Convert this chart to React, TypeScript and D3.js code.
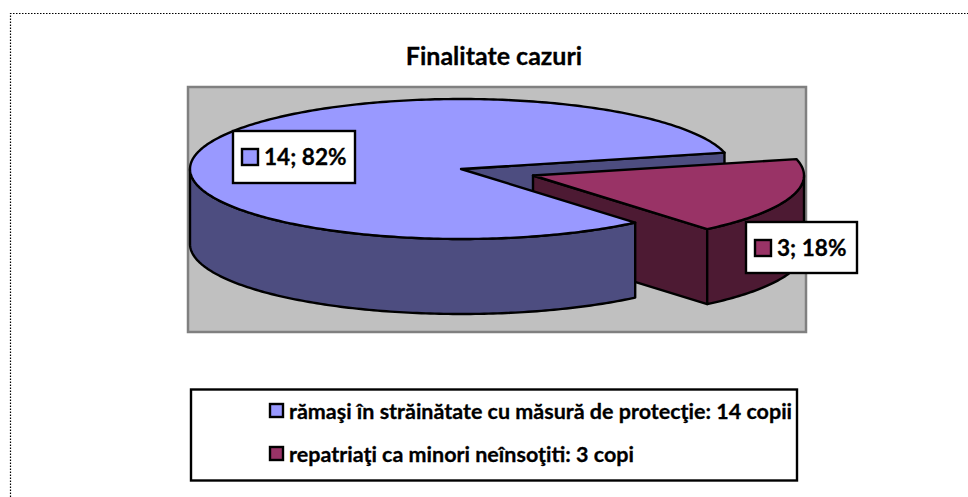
import React from "react";
import * as d3 from "d3";

const W = 968, H = 497;
const title = "Finalitate cazuri";
const categories = ["rămaşi în străinătate cu măsură de protecţie: 14 copii", "repatriaţi ca minori neînsoţiti: 3 copi"];
const values = [14, 3];
const labels = ["14; 82%", "3; 18%"];
const topColors = ["#9999ff", "#993366"];
const sideColors = ["#4d4d80", "#4d1a33"];
const font = "Lato, Carlito, sans-serif";

const cx = 461, cy = 169, rx = 271, ry = 70, depth = 75;
const offset = [72, 6.5];
// screen angle measured clockwise from +x where the big slice begins
const startDeg = 50;

const pie = d3.pie<number>().sort(null)
  .startAngle((startDeg * Math.PI) / 180)
  .endAngle((startDeg * Math.PI) / 180 + 2 * Math.PI)(values);

const px = d3.scaleLinear().domain([-1, 1]).range([-rx, rx]);
const py = d3.scaleLinear().domain([-1, 1]).range([-ry, ry]);
const pt = (a: number, dx = 0, dy = 0): [number, number] => [
  dx + px(Math.cos(a)), dy + py(Math.sin(a)),
];
const line = d3.line<[number, number]>();
const samples = (a0: number, a1: number) => {
  const n = Math.max(4, Math.ceil(Math.abs(a1 - a0) * 60));
  return d3.range(n + 1).map((i) => a0 + ((a1 - a0) * i) / n);
};
const TWO = 2 * Math.PI;
const topPath = (a0: number, a1: number) =>
  line([[0, 0], ...samples(a0, a1).map((a) => pt(a))])! + "Z";
// outer wall, only for angles facing the viewer (sin >= 0)
const wallPath = (a0: number, a1: number) => {
  const lo = Math.max(a0, 0), hi = Math.min(a1, Math.PI);
  const s = samples(lo, hi);
  return line([...s.map((a) => pt(a)), ...s.slice().reverse().map((a) => pt(a, 0, depth))])! + "Z";
};
const cutPath = (a: number) =>
  line([[0, 0], pt(a), pt(a, 0, depth), [0, depth]])! + "Z";

const main = pie[0];
const small = pie[1];
const mainA0 = main.startAngle, mainA1 = main.endAngle;
const smallA0 = small.startAngle - TWO, smallA1 = small.endAngle - TWO;

const stroke = { stroke: "#000", strokeWidth: 2.4, strokeLinejoin: "round" as const };
const textInk = { stroke: "#000", strokeWidth: 0.3, fill: "#000" };

function LabelBox({ x, y, w, h, color, text }: any) {
  return (
    <g>
      <rect x={x} y={y} width={w} height={h} fill="#fff" stroke="#000" strokeWidth={2.4} />
      <rect x={x + 9} y={y + 18} width={16} height={16} fill={color} stroke="#000" strokeWidth={2.4} />
      <text x={x + 31} y={y + 34} fontFamily={font} fontWeight={700} fontSize={22.6} {...textInk}>{text}</text>
    </g>
  );
}

export default function App() {
  return (
    <svg width={W} height={H} style={{ position: "fixed", left: 0, top: 0, display: "block", background: "#fff" }}>
      <path d={`M10.5 ${H}V13.5H${W}`} fill="none" stroke="#000" strokeWidth={1.2} strokeDasharray="1.5 1.5" />
      <text x={494} y={65} textAnchor="middle" fontFamily={font} fontWeight={700} fontSize={25} {...textInk}>{title}</text>
      <rect x={188} y={87} width={618} height={245} fill="#c0c0c0" stroke="#808080" strokeWidth={2.5} />
      <g transform={`translate(${cx},${cy})`}>
        <path d={cutPath(mainA1)} fill={sideColors[0]} {...stroke} />
        <g transform={`translate(${offset[0]},${offset[1]})`}>
          <path d={cutPath(smallA1)} fill={sideColors[1]} {...stroke} />
          <path d={wallPath(smallA0, smallA1)} fill={sideColors[1]} {...stroke} />
          <path d={topPath(smallA0, smallA1)} fill={topColors[1]} {...stroke} />
        </g>
        <path d={wallPath(mainA0, mainA1)} fill={sideColors[0]} {...stroke} />
        <path d={topPath(mainA0, mainA1)} fill={topColors[0]} {...stroke} />
      </g>
      <LabelBox x={233} y={131} w={122} h={52} color={topColors[0]} text={labels[0]} />
      <LabelBox x={746} y={222} w={111} h={51} color={topColors[1]} text={labels[1]} />
      <rect x={191} y={389.5} width={606} height={91} fill="#fff" stroke="#000" strokeWidth={2.4} />
      {categories.map((c, i) => (
        <g key={c}>
          <rect x={270} y={404 + i * 43} width={13} height={13} fill={topColors[i]} stroke="#000" strokeWidth={2.4} />
          <text x={289} y={419 + i * 43} fontFamily={font} fontWeight={700} fontSize={21.5} {...textInk}>{c}</text>
        </g>
      ))}
    </svg>
  );
}
